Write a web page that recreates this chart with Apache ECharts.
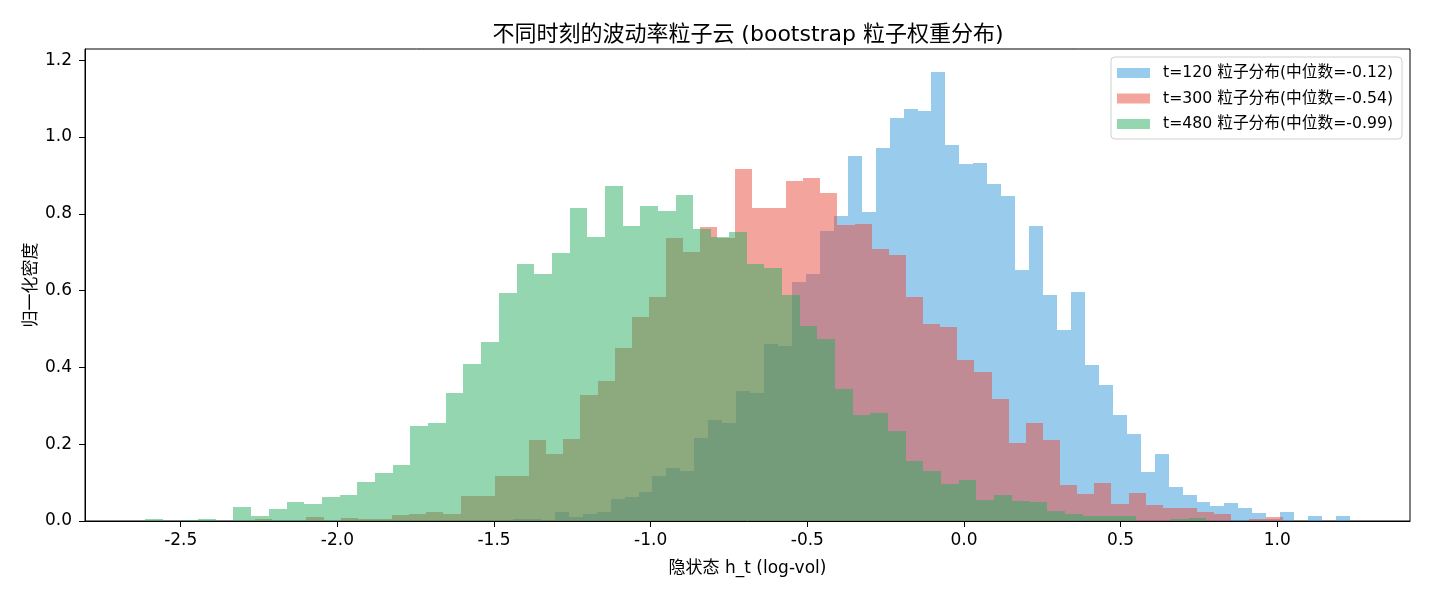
<!DOCTYPE html>
<html>
<head>
<meta charset="utf-8">
<script src="https://cdn.jsdelivr.net/npm/echarts@6/dist/echarts.min.js"></script>
<style>
html,body{margin:0;padding:0;background:#fff;}
#chart{width:1430px;height:598px;}
</style>
</head>
<body>
<div id="chart"></div>
<script>
// ---- data ----
const seriesNames = [
  't=120 粒子分布(中位数=-0.12)',
  't=300 粒子分布(中位数=-0.54)',
  't=480 粒子分布(中位数=-0.99)'
];
const xTicks = [-2.5, -2.0, -1.5, -1.0, -0.5, 0.0, 0.5, 1.0];
const yTicks = [0.0, 0.2, 0.4, 0.6, 0.8, 1.0, 1.2];

// bin ranges (histogram edges: 60 bins each)
const blueRange = [-1.4395, 1.2320];
const redRange = [-2.263, 1.0175];
const greenRange = [-2.614, 0.774];

const blueDensity = [
  0.005,0.005,0,0.023,0.010,0.018,0.023,0.057,0.062,0.076,
  0.117,0.138,0.130,0.216,0.263,0.255,0.339,0.333,0.461,0.456,
  0.622,0.643,0.755,0.794,0.951,0.805,0.971,1.049,1.073,1.068,
  1.169,0.979,0.930,0.932,0.878,0.846,0.654,0.768,0.589,0.497,
  0.596,0.406,0.354,0.276,0.227,0.128,0.174,0.089,0.068,0.049,
  0.039,0.047,0.034,0.021,0.005,0.023,0,0.013,0,0.013
];
const redDensity = [
  0.005,0,0,0.010,0,0.008,0.005,0.005,0.016,0.018,
  0.023,0.018,0.065,0.065,0.117,0.117,0.211,0.174,0.214,0.328,
  0.365,0.451,0.531,0.583,0.737,0.701,0.766,0.738,0.917,0.815,
  0.815,0.885,0.893,0.854,0.771,0.773,0.708,0.693,0.583,0.513,
  0.505,0.419,0.388,0.318,0.203,0.255,0.211,0.094,0.070,0.099,
  0.044,0.073,0.042,0.034,0.034,0.023,0.018,0,0.005,0.010
];
const greenDensity = [
  0.005,0,0.003,0.005,0,0.036,0.013,0.031,0.049,0.044,
  0.062,0.068,0.101,0.125,0.146,0.247,0.255,0.333,0.409,0.466,
  0.594,0.669,0.643,0.698,0.815,0.740,0.872,0.768,0.820,0.807,
  0.849,0.760,0.740,0.753,0.669,0.659,0.589,0.508,0.474,0.344,
  0.276,0.281,0.234,0.156,0.130,0.096,0.107,0.055,0.068,0.052,
  0.049,0.026,0.018,0.013,0.013,0.013,0,0,0.005,0.008
];

const colors = ['rgba(52,152,219,0.5)', 'rgba(231,76,60,0.5)', 'rgba(39,174,96,0.5)'];

function binsOf(range, dens) {
  const n = dens.length;
  const w = (range[1] - range[0]) / n;
  return dens.map((d, i) => [range[0] + i * w, range[0] + (i + 1) * w, d]);
}

function renderBar(params, api) {
  const p0 = api.coord([api.value(0), 0]);
  const p1 = api.coord([api.value(1), api.value(2)]);
  const x0 = Math.round(p0[0]), x1 = Math.round(p1[0]);
  const yb = Math.round(p0[1]), yt = Math.round(p1[1]);
  return {
    type: 'rect',
    shape: { x: x0, y: yt, width: x1 - x0, height: yb - yt },
    style: { fill: api.style().fill }
  };
}

const FONT = '"DejaVu Sans", "Noto Sans CJK SC", sans-serif';
const chart = echarts.init(document.getElementById('chart'), null, { renderer: 'canvas' });

const allBins = [binsOf(blueRange, blueDensity), binsOf(redRange, redDensity), binsOf(greenRange, greenDensity)];

chart.setOption({
  animation: false,
  backgroundColor: '#fff',
  textStyle: { fontFamily: FONT },
  title: {
    text: '不同时刻的波动率粒子云 (bootstrap 粒子权重分布)',
    left: 743, top: 19, textAlign: 'center',
    textStyle: { fontFamily: FONT, fontSize: 22, fontWeight: 'normal', color: '#000' }
  },
  legend: {
    orient: 'vertical',
    right: 28, top: 57,
    itemWidth: 33, itemHeight: 10, itemGap: 9.5,
    padding: [8, 9, 7, 6],
    backgroundColor: '#fff',
    borderColor: '#d0d0d0', borderWidth: 1, borderRadius: 4,
    textStyle: { fontFamily: FONT, fontSize: 15.7, lineHeight: 16, color: '#000', padding: [0, 0, 0, 8] },
    data: seriesNames.map((n, i) => ({ name: n, icon: 'rect', itemStyle: { color: colors[i] } }))
  },
  grid: { left: 85, right: 20, top: 49, bottom: 77, show: true, borderColor: '#000', borderWidth: 1, backgroundColor: 'transparent' },
  xAxis: {
    type: 'value', min: -2.8056, max: 1.4236,
    name: '隐状态 h_t (log-vol)', nameLocation: 'middle', nameGap: 39.5, nameMoveOverlap: false,
    nameTextStyle: { fontFamily: FONT, fontSize: 17, color: '#000' },
    axisLine: { show: true, onZero: false, lineStyle: { color: '#000', width: 1 } },
    axisTick: { show: true, length: 6, lineStyle: { color: '#000' }, customValues: xTicks },
    axisLabel: { color: '#000', fontSize: 17, fontFamily: FONT, margin: 11, customValues: xTicks, formatter: v => v.toFixed(1) },
    splitLine: { show: false }
  },
  yAxis: {
    type: 'value', min: 0, max: 1.229,
    name: '归一化密度', nameLocation: 'middle', nameGap: 45, nameRotate: 90, nameMoveOverlap: false,
    nameTextStyle: { fontFamily: FONT, fontSize: 17, color: '#000' },
    axisLine: { show: true, onZero: false, lineStyle: { color: '#000', width: 1 } },
    axisTick: { show: true, length: 6, lineStyle: { color: '#000' }, customValues: yTicks },
    axisLabel: { color: '#000', fontSize: 17, fontFamily: FONT, margin: 13, customValues: yTicks, formatter: v => v.toFixed(1) },
    splitLine: { show: false }
  },
  series: allBins.map((bins, i) => ({
    type: 'custom',
    name: seriesNames[i],
    renderItem: renderBar,
    itemStyle: { color: colors[i] },
    encode: { x: [0, 1], y: 2 },
    data: bins,
    clip: true
  }))
});
</script>
</body>
</html>
